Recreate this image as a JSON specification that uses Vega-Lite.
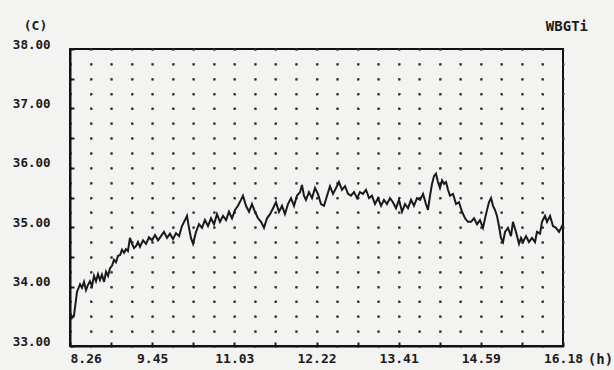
{
  "$schema": "https://vega.github.io/schema/vega-lite/v6.json",
  "width": 493,
  "height": 297,
  "autosize": {"type": "none"},
  "padding": {"left": 70, "top": 49, "right": 51, "bottom": 24},
  "background": "#f3f3f2",
  "title": {"text": "WBGTi", "anchor": "end", "frame": "group", "baseline": "bottom", "offset": -29, "dx": 25, "fontSize": 14, "font": "DejaVu Sans Mono", "fontWeight": "bold", "color": "#1a1a1a"},
  "config": {
    "view": {"stroke": "#111111", "strokeWidth": 2},
    "axis": {
      "domainColor": "#111111", "domainWidth": 2,
      "tickColor": "#1a1a1a", "tickWidth": 2, "tickSize": -4,
      "grid": true, "gridColor": "#333333", "gridWidth": 2,
      "labelFont": "DejaVu Sans Mono", "labelFontWeight": "bold", "labelColor": "#1a1a1a",
      "titleFont": "DejaVu Sans Mono", "titleFontWeight": "bold", "titleColor": "#1a1a1a",
      "labelOverlap": false
    }
  },
  "data": {"values": [
    {"t":0,"v":33.57},{"t":1.9,"v":33.47},{"t":3.8,"v":33.51},{"t":6.7,"v":33.91},{"t":9.6,"v":34.04},{"t":11.5,"v":33.98},{"t":13.4,"v":34.08},{"t":15.3,"v":33.94},{"t":17.2,"v":34.03},{"t":19.1,"v":34.09},
    {"t":21.1,"v":34.01},{"t":23.0,"v":34.18},{"t":24.9,"v":34.09},{"t":26.8,"v":34.21},{"t":28.7,"v":34.11},{"t":30.6,"v":34.20},{"t":32.6,"v":34.08},{"t":34.5,"v":34.25},{"t":36.4,"v":34.18},{"t":38.3,"v":34.31},
    {"t":40.2,"v":34.35},{"t":42.1,"v":34.45},{"t":44.0,"v":34.41},{"t":46.0,"v":34.52},{"t":47.9,"v":34.53},{"t":49.8,"v":34.62},{"t":51.7,"v":34.57},{"t":53.6,"v":34.63},{"t":55.5,"v":34.60},{"t":57.4,"v":34.82},
    {"t":59.4,"v":34.72},{"t":61.3,"v":34.65},{"t":63.2,"v":34.68},{"t":65.1,"v":34.75},{"t":67.0,"v":34.67},{"t":69.9,"v":34.78},{"t":72.8,"v":34.72},{"t":75.6,"v":34.83},{"t":78.5,"v":34.78},{"t":81.4,"v":34.87},
    {"t":84.3,"v":34.78},{"t":87.1,"v":34.85},{"t":90.0,"v":34.92},{"t":92.9,"v":34.82},{"t":95.7,"v":34.89},{"t":98.6,"v":34.80},{"t":101.5,"v":34.90},{"t":104.4,"v":34.85},{"t":107.2,"v":35.02},{"t":110.1,"v":35.12},
    {"t":112.0,"v":35.19},{"t":113.9,"v":34.99},{"t":115.8,"v":34.82},{"t":117.8,"v":34.72},{"t":120.6,"v":34.92},{"t":123.5,"v":35.05},{"t":126.4,"v":34.99},{"t":129.2,"v":35.12},{"t":132.1,"v":35.02},{"t":135.0,"v":35.15},
    {"t":137.9,"v":35.05},{"t":140.7,"v":35.22},{"t":143.6,"v":35.09},{"t":146.5,"v":35.19},{"t":149.4,"v":35.12},{"t":152.2,"v":35.26},{"t":155.1,"v":35.15},{"t":158.0,"v":35.29},{"t":160.8,"v":35.36},{"t":163.7,"v":35.46},
    {"t":165.6,"v":35.53},{"t":168.5,"v":35.36},{"t":171.4,"v":35.26},{"t":174.2,"v":35.39},{"t":177.1,"v":35.26},{"t":180.0,"v":35.15},{"t":182.9,"v":35.09},{"t":185.7,"v":34.99},{"t":188.6,"v":35.15},{"t":191.5,"v":35.22},
    {"t":194.4,"v":35.32},{"t":197.2,"v":35.42},{"t":200.1,"v":35.26},{"t":203.0,"v":35.36},{"t":205.8,"v":35.22},{"t":208.7,"v":35.39},{"t":211.6,"v":35.49},{"t":214.5,"v":35.36},{"t":217.3,"v":35.53},{"t":220.2,"v":35.59},
    {"t":222.1,"v":35.71},{"t":224.0,"v":35.53},{"t":225.9,"v":35.46},{"t":228.8,"v":35.59},{"t":231.7,"v":35.49},{"t":234.6,"v":35.66},{"t":237.4,"v":35.56},{"t":240.3,"v":35.39},{"t":243.2,"v":35.36},{"t":246.1,"v":35.53},
    {"t":248.9,"v":35.69},{"t":251.8,"v":35.56},{"t":254.7,"v":35.66},{"t":257.5,"v":35.76},{"t":260.4,"v":35.63},{"t":263.3,"v":35.69},{"t":266.2,"v":35.56},{"t":269.0,"v":35.53},{"t":271.9,"v":35.59},{"t":274.8,"v":35.49},
    {"t":277.6,"v":35.59},{"t":280.5,"v":35.56},{"t":283.4,"v":35.63},{"t":286.3,"v":35.49},{"t":289.1,"v":35.53},{"t":292.0,"v":35.39},{"t":294.9,"v":35.49},{"t":297.8,"v":35.36},{"t":300.6,"v":35.46},{"t":303.5,"v":35.39},
    {"t":306.4,"v":35.49},{"t":309.2,"v":35.42},{"t":312.1,"v":35.32},{"t":315.0,"v":35.46},{"t":317.9,"v":35.26},{"t":320.7,"v":35.39},{"t":323.6,"v":35.32},{"t":326.5,"v":35.46},{"t":329.3,"v":35.36},{"t":332.2,"v":35.49},
    {"t":335.1,"v":35.46},{"t":338.0,"v":35.56},{"t":340.8,"v":35.39},{"t":342.7,"v":35.29},{"t":344.7,"v":35.53},{"t":346.6,"v":35.73},{"t":348.5,"v":35.86},{"t":350.4,"v":35.90},{"t":352.3,"v":35.76},{"t":354.2,"v":35.66},
    {"t":356.2,"v":35.79},{"t":358.1,"v":35.73},{"t":360.0,"v":35.76},{"t":361.9,"v":35.63},{"t":363.8,"v":35.53},{"t":366.7,"v":35.56},{"t":369.6,"v":35.39},{"t":372.4,"v":35.42},{"t":375.3,"v":35.26},{"t":378.2,"v":35.15},
    {"t":381.0,"v":35.09},{"t":383.9,"v":35.09},{"t":386.8,"v":35.15},{"t":389.7,"v":35.05},{"t":392.5,"v":35.12},{"t":395.4,"v":34.99},{"t":398.3,"v":35.22},{"t":401.1,"v":35.42},{"t":403.1,"v":35.49},{"t":405.0,"v":35.36},
    {"t":406.9,"v":35.29},{"t":408.8,"v":35.19},{"t":410.7,"v":35.02},{"t":412.6,"v":34.82},{"t":414.6,"v":34.75},{"t":416.5,"v":34.92},{"t":419.3,"v":34.99},{"t":422.2,"v":34.85},{"t":424.1,"v":35.09},{"t":427.0,"v":34.92},
    {"t":429.9,"v":34.72},{"t":431.8,"v":34.82},{"t":433.7,"v":34.75},{"t":436.6,"v":34.85},{"t":439.4,"v":34.75},{"t":442.3,"v":34.82},{"t":445.2,"v":34.75},{"t":447.1,"v":34.92},{"t":450.0,"v":34.89},{"t":451.9,"v":35.09},
    {"t":454.8,"v":35.19},{"t":456.7,"v":35.09},{"t":459.6,"v":35.19},{"t":462.4,"v":35.02},{"t":465.3,"v":34.99},{"t":468.2,"v":34.92},{"t":472.0,"v":35.05}
  ]},
  "mark": {"type": "line", "color": "#1a1a1a", "strokeWidth": 2},
  "encoding": {
    "x": {
      "field": "t", "type": "quantitative",
      "scale": {"domain": [0, 472], "nice": false, "zero": false},
      "axis": {
        "values": [0, 19.6667, 39.3333, 59, 78.6667, 98.3333, 118, 137.6667, 157.3333, 177, 196.6667, 216.3333, 236, 255.6667, 275.3333, 295, 314.6667, 334.3333, 354, 373.6667, 393.3333, 413, 432.6667, 452.3333, 472],
        "labelExpr": "round(datum.value*24/472) % 4 ? '' : floor(round(506+datum.value)/60) + '.' + (round(506+datum.value) % 60 < 10 ? '0' : '') + (round(506+datum.value) % 60)",
        "labelAlign": {"condition": {"test": "datum.value < 1", "value": "left"}, "value": "center"},
        "labelFontSize": 13,
        "labelPadding": 10,
        "tickOpacity": {"condition": {"test": "round(datum.value*24/472) % 2 == 0", "value": 1}, "value": 0},
        "gridDash": [2, 12.85],
        "gridDashOffset": 1,
        "title": "(h)", "titleX": 530, "titleY": 13, "titleAlign": "center", "titleBaseline": "middle", "titleFontSize": 14
      }
    },
    "y": {
      "field": "v", "type": "quantitative",
      "scale": {"domain": [33, 38], "nice": false, "zero": false},
      "axis": {
        "values": [33, 33.25, 33.5, 33.75, 34, 34.25, 34.5, 34.75, 35, 35.25, 35.5, 35.75, 36, 36.25, 36.5, 36.75, 37, 37.25, 37.5, 37.75, 38],
        "labelExpr": "datum.value % 1 ? '' : format(datum.value, '.2f')",
        "labelFontSize": 12.5,
        "labelPadding": 24,
        "labelOffset": -5,
        "tickOpacity": {"condition": {"test": "datum.value % 0.5 == 0", "value": 1}, "value": 0},
        "gridDash": [2, 18.54],
        "gridDashOffset": 1,
        "title": "(C)", "titleAngle": 0, "titleX": -35, "titleY": -24, "titleAlign": "center", "titleBaseline": "middle", "titleFontSize": 13
      }
    }
  }
}
